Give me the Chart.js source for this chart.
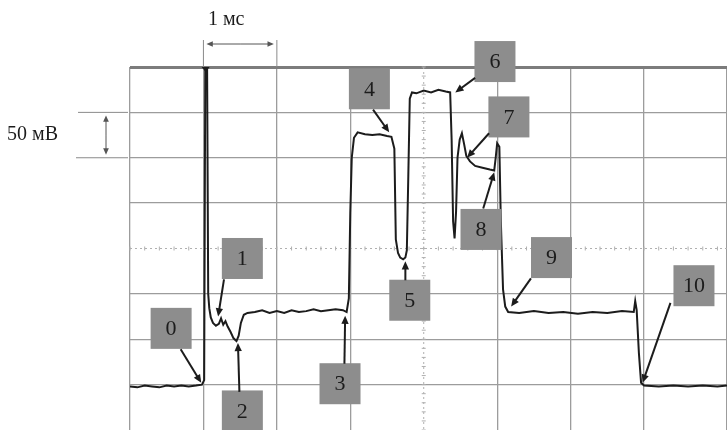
<!DOCTYPE html>
<html>
<head>
<meta charset="utf-8">
<script src="https://cdn.jsdelivr.net/npm/chart.js@4.4.0/dist/chart.umd.min.js"></script>
<style>
  body { margin: 0; background: #fff; }
  #wrap { position: absolute; left: 0; top: 0; width: 727px; height: 430px; }
</style>
</head>
<body>
<div id="wrap"><canvas id="scope" width="727" height="430"></canvas></div>
<script>
'use strict';

// time, ms (one division = 1 ms)
var timeMs = [
    0.00, 0.10, 0.20, 0.30, 0.40, 0.50, 0.60, 0.70, 0.80, 0.90, 0.98,
    1.01, 1.025, 1.05, 1.065, 1.08, 1.10, 1.13, 1.17, 1.21, 1.24, 1.27, 1.30,
    1.33, 1.37, 1.41, 1.45, 1.48, 1.51, 1.55, 1.60, 1.70, 1.80, 1.90, 2.00,
    2.10, 2.20, 2.30, 2.40, 2.50, 2.60, 2.70, 2.80, 2.90, 2.95,
    2.98, 3.00, 3.02, 3.05, 3.10, 3.20, 3.30, 3.40, 3.50, 3.56,
    3.60, 3.62, 3.65, 3.68, 3.72, 3.75, 3.77, 3.79, 3.81, 3.84,
    3.90, 4.00, 4.10, 4.20, 4.30, 4.36,
    4.38, 4.40, 4.42, 4.44, 4.46, 4.49, 4.52, 4.55, 4.58, 4.63, 4.70, 4.80, 4.90, 4.96,
    4.98, 5.00, 5.03, 5.05, 5.08, 5.11, 5.15,
    5.30, 5.50, 5.70, 5.90, 6.10, 6.30, 6.50, 6.70, 6.86,
    6.88, 6.90, 6.93, 6.96, 7.00, 7.20, 7.40, 7.60, 7.80, 8.00, 8.13
];
// voltage, mV (one division = 50 mV, 0 on the centre line)
var voltageMv = [
    -152, -153, -151, -152, -153, -151, -152, -151, -152, -151, -150,
    -145, 199, 199, -50, -66, -76, -82, -85, -83, -77, -84, -80,
    -86, -92, -99, -102, -96, -82, -73, -71, -70, -68, -71, -69,
    -71, -68, -70, -69, -67, -69, -68, -67, -68, -70,
    -55, 40, 100, 122, 128, 126, 125, 126, 124, 123,
    110, 10, -5, -10, -12, -10, -2, 80, 165, 172,
    171, 174, 172, 175, 173, 172,
    120, 30, 11, 40, 100, 120, 127, 115, 102, 96, 91, 89, 87, 86,
    100, 116, 112, 30, -45, -64, -70,
    -71, -69, -71, -70, -72, -70, -71, -69, -70,
    -58, -68, -115, -148, -151, -152, -151, -152, -151, -152, -151
];

// numbered callouts: box centre and arrow, in ms / mV
var callouts = [
    { text: '0',  x: 0.56, y: -88,  from: [0.69, -111], to: [0.97, -148] },
    { text: '1',  x: 1.53, y: -11,  from: [1.28, -34],  to: [1.20, -75] },
    { text: '2',  x: 1.53, y: -179, from: [1.49, -158], to: [1.47, -104] },
    { text: '3',  x: 2.86, y: -149, from: [2.92, -127], to: [2.93, -74] },
    { text: '4',  x: 3.26, y: 176,  from: [3.31, 153],  to: [3.53, 128] },
    { text: '5',  x: 3.81, y: -57,  from: [3.75, -35],  to: [3.75, -14] },
    { text: '6',  x: 4.97, y: 206,  from: [4.70, 188],  to: [4.43, 172] },
    { text: '7',  x: 5.16, y: 145,  from: [4.89, 127],  to: [4.59, 100] },
    { text: '8',  x: 4.78, y: 21,   from: [4.81, 44],   to: [4.96, 84] },
    { text: '9',  x: 5.74, y: -10,  from: [5.46, -33],  to: [5.19, -64] },
    { text: '10', x: 7.68, y: -41,  from: [7.36, -60],  to: [6.98, -148] }
];

var gridColor = '#9c9c9c';
var inkColor = '#1c1c1c';
var serif = '"Liberation Serif", "DejaVu Serif", serif';

function drawArrow(ctx, x1, y1, x2, y2, head) {
    var a = Math.atan2(y2 - y1, x2 - x1);
    ctx.beginPath();
    ctx.moveTo(x1, y1);
    ctx.lineTo(x2 - Math.cos(a) * head * 0.7, y2 - Math.sin(a) * head * 0.7);
    ctx.stroke();
    ctx.beginPath();
    ctx.moveTo(x2, y2);
    ctx.lineTo(x2 - head * Math.cos(a - 0.42), y2 - head * Math.sin(a - 0.42));
    ctx.lineTo(x2 - head * Math.cos(a + 0.42), y2 - head * Math.sin(a + 0.42));
    ctx.closePath();
    ctx.fill();
}

var scopePlugin = {
    id: 'scopeMarks',
    beforeDatasetsDraw: function (chart) {
        var ctx = chart.ctx, xs = chart.scales.x, ys = chart.scales.y, area = chart.chartArea;
        var cx = xs.getPixelForValue(4), cy = ys.getPixelForValue(0);
        ctx.save();
        ctx.strokeStyle = '#b0b0b0';
        ctx.lineWidth = 1;
        ctx.setLineDash([2, 3]);
        ctx.beginPath();
        ctx.moveTo(cx, area.top); ctx.lineTo(cx, area.bottom);
        ctx.moveTo(area.left, cy); ctx.lineTo(area.right, cy);
        ctx.stroke();
        ctx.setLineDash([]);
        // minor ticks on the centre lines
        ctx.beginPath();
        for (var t = 0; t <= 8.2; t += 0.2) {
            var px = xs.getPixelForValue(t);
            ctx.moveTo(px, cy - 2); ctx.lineTo(px, cy + 2);
        }
        for (var v = -200; v <= 200; v += 10) {
            var py = ys.getPixelForValue(v);
            ctx.moveTo(cx - 2, py); ctx.lineTo(cx + 2, py);
        }
        ctx.stroke();
        ctx.restore();
    },
    afterDraw: function (chart) {
        var ctx = chart.ctx, xs = chart.scales.x, ys = chart.scales.y, area = chart.chartArea;
        ctx.save();

        // trigger marker
        var tx = xs.getPixelForValue(1.03);
        ctx.fillStyle = inkColor;
        ctx.beginPath();
        ctx.moveTo(tx - 4, area.top); ctx.lineTo(tx + 4, area.top); ctx.lineTo(tx, area.top + 5);
        ctx.closePath(); ctx.fill();

        // time scale marker
        var x1 = xs.getPixelForValue(1), x2 = xs.getPixelForValue(2);
        ctx.strokeStyle = '#8a8a8a';
        ctx.lineWidth = 1;
        ctx.beginPath();
        ctx.moveTo(x1, 40); ctx.lineTo(x1, area.top);
        ctx.moveTo(x2, 40); ctx.lineTo(x2, area.top);
        ctx.stroke();
        ctx.strokeStyle = '#555';
        ctx.fillStyle = '#555';
        drawArrow(ctx, (x1 + x2) / 2, 44, x1 + 3, 44, 7);
        drawArrow(ctx, (x1 + x2) / 2, 44, x2 - 3, 44, 7);

        // voltage scale marker
        var y1 = ys.getPixelForValue(150), y2 = ys.getPixelForValue(100);
        ctx.strokeStyle = '#8a8a8a';
        ctx.beginPath();
        ctx.moveTo(78, y1); ctx.lineTo(area.left - 2, y1);
        ctx.moveTo(76, y2); ctx.lineTo(area.left - 2, y2);
        ctx.stroke();
        ctx.strokeStyle = '#555';
        drawArrow(ctx, 106, (y1 + y2) / 2, 106, y1 + 3, 7);
        drawArrow(ctx, 106, (y1 + y2) / 2, 106, y2 - 3, 7);

        ctx.fillStyle = inkColor;
        ctx.font = '20px ' + serif;
        ctx.textAlign = 'center';
        ctx.textBaseline = 'middle';
        ctx.fillText('1 мс', (x1 + x2) / 2 - 14, 20);
        ctx.textAlign = 'left';
        ctx.fillText('50 мВ', 7, (y1 + y2) / 2);

        // numbered callouts
        callouts.forEach(function (c) {
            var bx = xs.getPixelForValue(c.x), by = ys.getPixelForValue(c.y);
            ctx.fillStyle = '#8d8d8d';
            ctx.fillRect(bx - 20.5, by - 20.5, 41, 41);
            ctx.fillStyle = inkColor;
            ctx.font = '22px ' + serif;
            ctx.textAlign = 'center';
            ctx.fillText(c.text, bx, by + 1);
            ctx.strokeStyle = inkColor;
            ctx.lineWidth = 2;
            drawArrow(ctx, xs.getPixelForValue(c.from[0]), ys.getPixelForValue(c.from[1]),
                xs.getPixelForValue(c.to[0]), ys.getPixelForValue(c.to[1]), 9);
        });
        ctx.restore();
    }
};

var tracePoints = timeMs.map(function (t, i) {
    return { x: t, y: voltageMv[i] };
});

new Chart(document.getElementById('scope').getContext('2d'), {
    type: 'line',
    data: {
        datasets: [{
            data: tracePoints,
            borderColor: inkColor,
            borderWidth: 2,
            pointRadius: 0,
            tension: 0,
            fill: false
        }]
    },
    options: {
        responsive: false,
        animation: false,
        layout: { autoPadding: false, padding: { left: 130, top: 67, right: 0, bottom: 0 } },
        plugins: { legend: { display: false }, tooltip: { enabled: false } },
        scales: {
            x: {
                type: 'linear',
                min: 0,
                max: 8.13,
                ticks: { display: false, stepSize: 1 },
                border: { display: false },
                grid: {
                    drawTicks: false,
                    lineWidth: 1.3,
                    color: function (c) { return c.tick && c.tick.value === 4 ? 'rgba(0,0,0,0)' : gridColor; }
                }
            },
            y: {
                min: -200,
                max: 200,
                ticks: { display: false, stepSize: 50 },
                border: { display: false },
                grid: {
                    drawTicks: false,
                    lineWidth: function (c) { return c.tick && c.tick.value === 200 ? 3 : 1.3; },
                    color: function (c) {
                        if (!c.tick) return gridColor;
                        if (c.tick.value === 0 || c.tick.value === -200) return 'rgba(0,0,0,0)';
                        return c.tick.value === 200 ? '#7c7c7c' : gridColor;
                    }
                }
            }
        }
    },
    plugins: [scopePlugin]
});
</script>
</body>
</html>
